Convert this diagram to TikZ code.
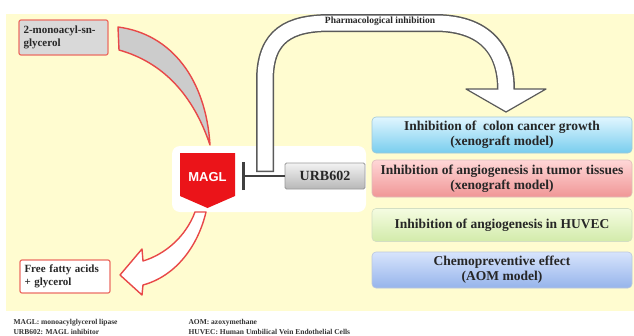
\documentclass[tikz,border=0pt]{standalone}
\usepackage{fontspec}
\setmainfont{Liberation Serif}
\newfontfamily\sansbold{Liberation Sans}
\usetikzlibrary{arrows.meta}
\definecolor{bgyellow}{RGB}{255,252,208}
\definecolor{salmon}{RGB}{236,110,100}
\definecolor{redline}{RGB}{232,72,72}
\definecolor{maglred}{RGB}{235,20,25}
\definecolor{arrowgray}{RGB}{90,90,90}
\definecolor{c1top}{RGB}{225,246,255}
\definecolor{c1bot}{RGB}{120,205,238}
\definecolor{c2top}{RGB}{255,215,215}
\definecolor{c2bot}{RGB}{240,150,150}
\definecolor{c3top}{RGB}{245,252,225}
\definecolor{c3bot}{RGB}{210,235,170}
\definecolor{c4top}{RGB}{215,228,252}
\definecolor{c4bot}{RGB}{150,180,235}
\begin{document}
\begin{tikzpicture}[x=1pt,y=-1pt,
  resbox/.style={rectangle, rounded corners=4pt, minimum width=260pt, align=center,
    font=\bfseries\fontsize{13.5}{15}\selectfont, text=black!85, line width=0.6pt},
  sidebox/.style={rectangle, rounded corners=2pt, align=left, draw=salmon, line width=1.2pt,
    font=\bfseries\fontsize{11}{13.5}\selectfont, text=black!85, inner sep=4pt},
  foot/.style={anchor=west, font=\bfseries\fontsize{7.5}{8}\selectfont, text=black!80}]
\useasboundingbox (0,0) rectangle (634,335);
\fill[white] (0,0) rectangle (634,335);
\fill[bgyellow] (6,14) rectangle (634,311);
% white panel behind MAGL / URB602
\fill[white, rounded corners=8pt] (172,146) rectangle (366,212);

% top-left substrate box
\node[sidebox, fill=black!15, minimum width=89pt, minimum height=35pt, text width=80pt] (mag) at (63.5,37.5) {2-monoacyl-sn-\\glycerol};
% crescent arrow to MAGL
\filldraw[fill=black!20, draw=redline, line width=1.4pt, line join=round]
  (118,27) .. controls (172,34) and (206,80) .. (210,145)
  .. controls (193,94) and (162,62) .. (119,50) -- cycle;

% big pharmacological inhibition arrow
\draw[line width=18pt, draw=arrowgray] (265,172) -- (265,80) .. controls (265,35) and (290,23) .. (330,23)
  -- (435,23) .. controls (480,23) and (506,45) .. (506,89);
\filldraw[fill=white, draw=arrowgray, line width=1.2pt, line join=round] (466,89) -- (546,89) -- (506,112) -- cycle;
\draw[line width=15pt, draw=white] (265,170.5) -- (265,80) .. controls (265,35) and (290,23) .. (330,23)
  -- (435,23) .. controls (480,23) and (506,45) .. (506,90);
\node[font=\bfseries\fontsize{9.5}{10}\selectfont, text=black!85] (pharm) at (380,21) {Pharmacological inhibition};

% MAGL shield
\fill[maglred] (180,153) -- (235,153) -- (235,196) -- (207.5,208) -- (180,196) -- cycle;
\node[font=\sansbold\bfseries\fontsize{13}{14}\selectfont, text=white] (magl) at (207.5,177) {MAGL};

% URB602 and inhibition bar
\node[rectangle, rounded corners=1.5pt, draw=black!40, line width=0.8pt, top color=black!5, bottom color=black!28,
  minimum width=80pt, minimum height=26pt, font=\bfseries\fontsize{14}{15}\selectfont, text=black!85] (urb) at (325,176) {URB602};
\coordinate (bar) at (242,176);
\draw[line width=2pt, draw=black!75, -{Bar[width=28pt, line width=2.5pt]}] (urb.west) -- (bar);

% red arrow to products
\filldraw[fill=white, draw=redline, line width=1.4pt, line join=round]
  (195,212) .. controls (186,236) and (166,254) .. (143,261) -- (142,249) -- (120,275) -- (142,295) -- (143,285)
  .. controls (176,276) and (198,246) .. (206,212) -- cycle;
\node[sidebox, fill=white, minimum width=90pt, minimum height=33pt, text width=81pt] (ffa) at (65,276.5) {Free fatty acids\\+ glycerol};

% results boxes
\node[resbox, draw=c1bot!80!black!60, top color=c1top, bottom color=c1bot, minimum height=36pt] (r1) at (502,135)
  {Inhibition of\ \ colon cancer growth\\(xenograft model)};
\node[resbox, draw=c2bot!80!black!50, top color=c2top, bottom color=c2bot, minimum height=37pt] (r2) at (502,178.5)
  {Inhibition of angiogenesis in tumor tissues\\(xenograft model)};
\node[resbox, draw=c3bot!80!black!50, top color=c3top, bottom color=c3bot, minimum height=33pt] (r3) at (502,225)
  {Inhibition of angiogenesis in HUVEC};
\node[resbox, draw=c4bot!80!black!50, top color=c4top, bottom color=c4bot, minimum height=36pt] (r4) at (502,270)
  {Chemopreventive effect\\(AOM model)};

% footer
\node[foot] (f1) at (10,323) {MAGL: monoacylglycerol lipase};
\node[foot] (f2) at (10,331.5) {URB602: MAGL inhibitor};
\node[foot] (f3) at (185,323) {AOM: azoxymethane};
\node[foot] (f4) at (185,331.5) {HUVEC: Human Umbilical Vein Endothelial Cells};
\end{tikzpicture}
\end{document}
